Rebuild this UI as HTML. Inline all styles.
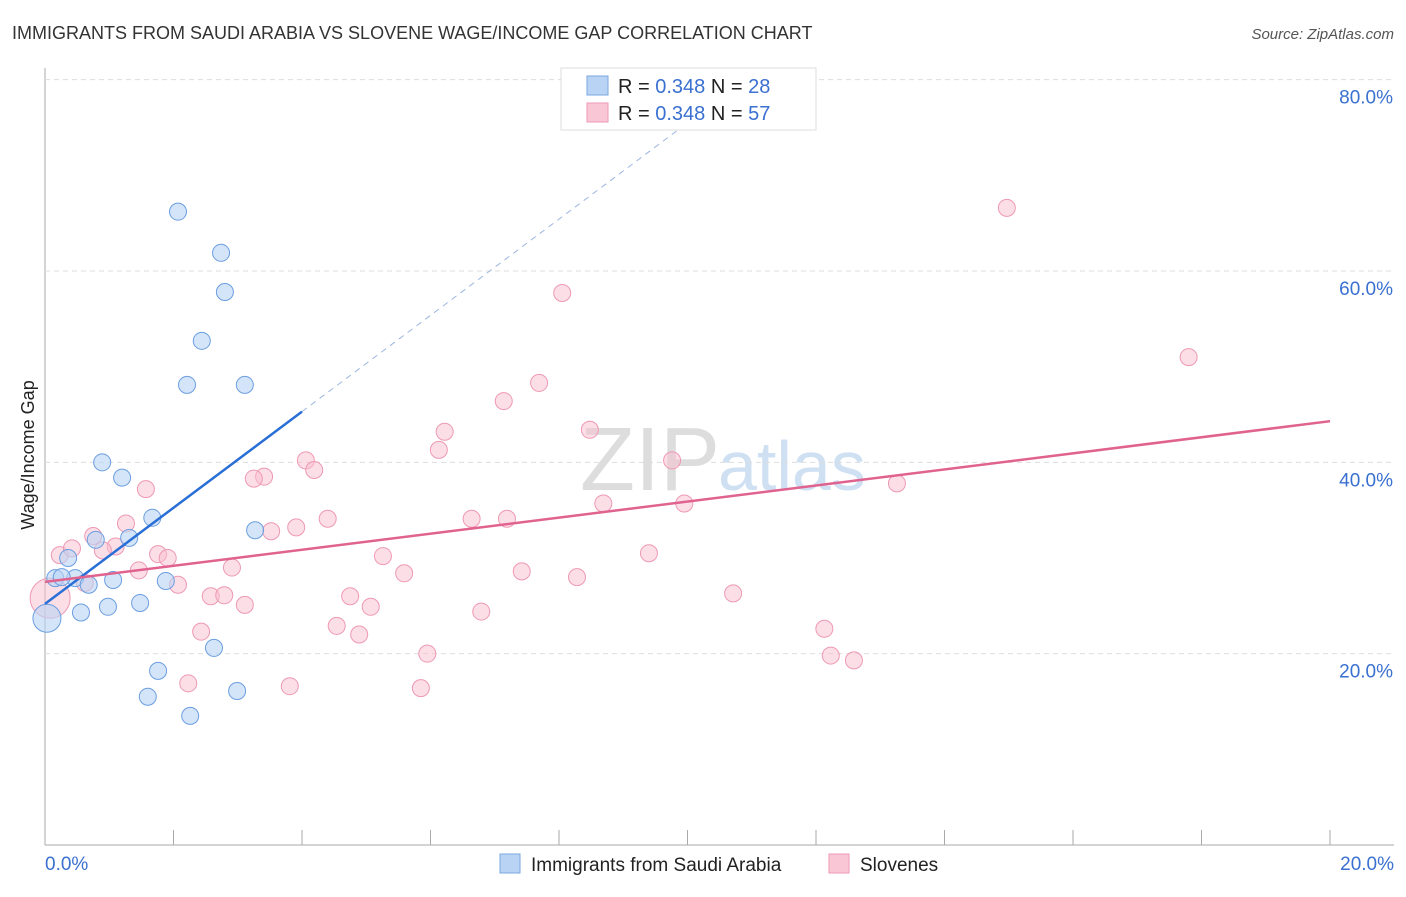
<!DOCTYPE html>
<html><head><meta charset="utf-8"><style>
body{margin:0;background:#fff;font-family:"Liberation Sans",sans-serif}
svg text{font-family:"Liberation Sans",sans-serif}
</style></head><body>
<svg id="c" width="1406" height="892">
<text x="12" y="39" font-size="18" fill="#333">IMMIGRANTS FROM SAUDI ARABIA VS SLOVENE WAGE/INCOME GAP CORRELATION CHART</text>
<text x="1394" y="39" font-size="15" fill="#555" text-anchor="end" font-style="italic">Source: ZipAtlas.com</text>
<text x="34" y="455" font-size="18" fill="#222" text-anchor="middle" transform="rotate(-90 34 455)">Wage/Income Gap</text>
<text x="720" y="490" font-size="90" fill="#ddd" text-anchor="end" font-family="Liberation Serif">ZIP</text>
<text x="718" y="490" font-size="70" fill="#cfe0f3">atlas</text>
<g id="grid"></g><g id="pts"></g><g id="lines"></g>
<g>
<rect x="561" y="68" width="255" height="62" fill="#fff" stroke="#ddd"/>
<rect x="587" y="76" width="21" height="19" fill="#b9d3f5" stroke="#7aa7e0"/>
<rect x="587" y="103" width="21" height="19" fill="#f9c6d6" stroke="#ee99b4"/>
<text x="618" y="93" font-size="20" fill="#222">R = <tspan fill="#3a70d0">0.348</tspan>   N = <tspan fill="#3a70d0">28</tspan></text>
<text x="618" y="120" font-size="20" fill="#222">R = <tspan fill="#3a70d0">0.348</tspan>   N = <tspan fill="#3a70d0">57</tspan></text>
</g>
<g>
<rect x="500" y="854" width="20" height="19" fill="#b9d3f5" stroke="#7aa7e0"/>
<text x="531" y="871" font-size="19" fill="#222">Immigrants from Saudi Arabia</text>
<rect x="829" y="854" width="20" height="19" fill="#f9c6d6" stroke="#ee99b4"/>
<text x="860" y="871" font-size="19" fill="#222">Slovenes</text>
</g>
</svg>
<script>
const yTicks=[20,40,60,80];
const xTickLabels=["0.0%","20.0%"];
const blueX=[2.07,2.74,2.80,2.44,2.21,3.11,0.89,1.20,1.67,3.27,0.79,1.31,0.36,0.16,0.47,0.68,1.06,1.88,1.48,0.98,0.56,0.03,2.63,1.76,1.60,2.99,2.26,0.26];
const blueY=[66.2,61.9,57.8,52.7,48.1,48.1,40.0,38.4,34.2,32.9,31.9,32.1,30.0,27.9,27.9,27.2,27.7,27.6,25.3,24.9,24.3,23.7,20.6,18.2,15.5,16.1,13.5,28.0];
const pinkX=[14.97,8.05,17.80,7.69,7.14,6.22,8.48,6.13,4.06,4.19,3.41,3.25,9.76,13.26,1.57,8.69,9.95,1.26,4.40,6.64,7.19,0.75,0.23,0.42,1.10,0.90,1.76,1.91,5.26,9.40,3.52,3.91,1.46,2.91,5.59,7.42,8.28,2.07,0.62,2.58,2.79,4.75,5.07,3.11,6.79,4.54,10.71,12.13,4.89,2.43,5.95,12.23,12.59,2.23,3.81,5.85,0.08];
const pinkY=[66.6,57.7,51.0,48.3,46.4,43.2,43.4,41.3,40.2,39.2,38.5,38.3,40.2,37.8,37.2,35.7,35.7,33.6,34.1,34.1,34.1,32.3,30.3,31.0,31.2,30.8,30.4,30.0,30.2,30.5,32.8,33.2,28.7,29.0,28.4,28.6,28.0,27.2,27.4,26.0,26.1,26.0,24.9,25.1,24.4,22.9,26.3,22.6,22.0,22.3,20.0,19.8,19.3,16.9,16.6,16.4,25.8];
const blueTrendX=[0,4.0],blueTrendY=[25.2,45.3];
const blueDashX=[4.0,10.6],blueDashY=[45.3,78.5];
const pinkTrendX=[0,20],pinkTrendY=[27.5,44.3];
const X=v=>45+v*64.25, Y=v=>845-v*9.567;
const NS="http://www.w3.org/2000/svg";
function mk(t,a,p){const e=document.createElementNS(NS,t);for(const k in a)e.setAttribute(k,a[k]);p.appendChild(e);return e;}
const g=document.getElementById('grid');
let ax=mk('line',{x1:45,y1:68,x2:45,y2:845,stroke:'#aaa'},g);


let bx=mk('line',{x1:45,y1:845,x2:1394,y2:845,stroke:'#aaa'},g);


for(let i=1;i<=10;i++){const t=mk('line',{x1:X(i*2),y1:830,x2:X(i*2),y2:845,stroke:'#aaa'},g);

}
yTicks.forEach(v=>{const l=mk('line',{x1:45,y1:Y(v),x2:1394,y2:Y(v),stroke:'#ddd','stroke-dasharray':'5,4'},g);


const t=mk('text',{x:1393,y:Y(v)+24,'font-size':19,fill:'#3a70d0','text-anchor':'end'},g);t.textContent=v.toFixed(1)+'%';

});
[[0,'start',45],[20,'end',1394]].forEach((d,i)=>{const t=mk('text',{x:d[2],y:870,'font-size':19,fill:'#3a70d0','text-anchor':d[1]},g);t.textContent=xTickLabels[i];

});
const P=document.getElementById('pts');
pinkX.forEach((x,i)=>{const c=mk('circle',{cx:X(x),cy:Y(pinkY[i]),r:i==56?20:8.5,fill:'rgba(249,190,208,0.5)',stroke:'#ee99b4','stroke-width':1},P);

});
blueX.forEach((x,i)=>{const c=mk('circle',{cx:X(x),cy:Y(blueY[i]),r:i==21?14:8.5,fill:'rgba(185,211,245,0.6)',stroke:'#6b9ee0','stroke-width':1},P);

});
const L=document.getElementById('lines');
let d=mk('line',{x1:X(blueDashX[0]),y1:Y(blueDashY[0]),x2:X(blueDashX[1]),y2:Y(blueDashY[1]),stroke:'#9bb5e0','stroke-dasharray':'6,5'},L);


let b=mk('line',{x1:X(blueTrendX[0]),y1:Y(blueTrendY[0]),x2:X(blueTrendX[1]),y2:Y(blueTrendY[1]),stroke:'#2a6fd6','stroke-width':2.5},L);


let p=mk('line',{x1:X(pinkTrendX[0]),y1:Y(pinkTrendY[0]),x2:X(pinkTrendX[1]),y2:Y(pinkTrendY[1]),stroke:'#e0628e','stroke-width':2.5},L);


</script>
</body></html>
